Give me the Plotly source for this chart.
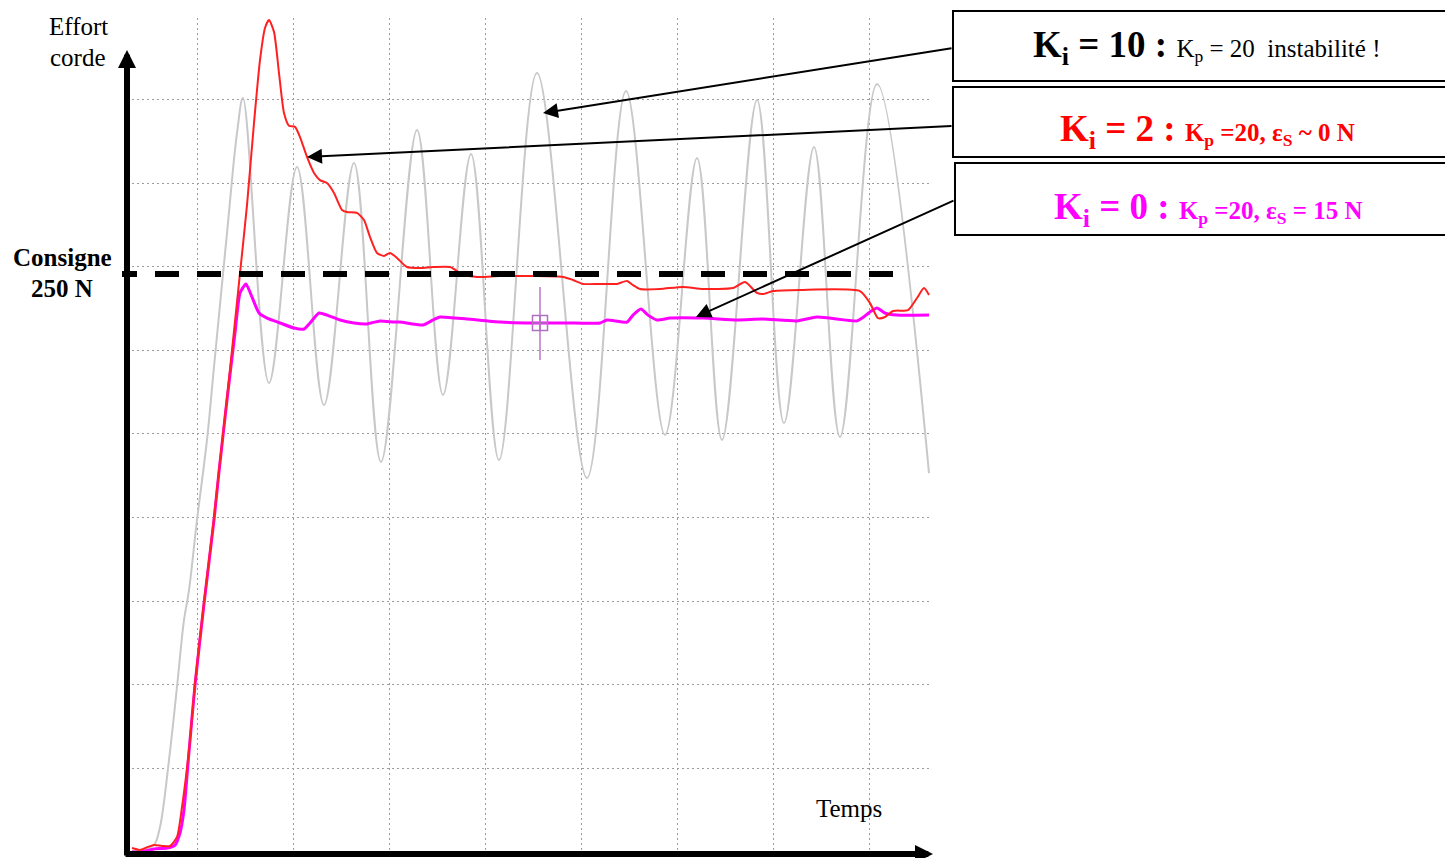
import plotly.graph_objects as go

# ---------------- data (time in ms, effort in N) ----------------
T_KI10 = [5, 18, 27, 33, 42, 50, 57, 62, 70, 80, 87, 100, 110, 116, 142, 170, 197, 227, 254, 290,
          316, 344, 372, 410, 460, 499, 538, 570, 595, 630, 657, 687, 713, 750, 802]
F_KI10 = [0.4, 1.3, 3.0, 10.8, 39.8, 71.4, 100.3, 113.3, 143.6, 178.2, 209.8, 267.7, 310.9, 326.1,
          202.8, 296.3, 193.3, 298.0, 168.7, 312.3, 197.7, 301.9, 169.5, 336.9, 161.8, 329.1,
          180.4, 300.2, 178.2, 325.2, 185.5, 304.9, 179.5, 332.2, 163.9]

T_KI2 = [5, 13, 21, 27, 35, 43, 50, 55, 62, 68, 77, 87, 92, 100, 112, 120, 127, 133, 138, 142, 147,
         152, 157, 162, 168, 173, 180, 187, 193, 200, 207, 215, 220, 230, 237, 243, 250, 257, 263,
         270, 280, 293, 306, 323, 335, 350, 373, 406, 436, 446, 456, 473, 490, 500, 506, 513, 533,
         556, 576, 606, 618, 630, 636, 646, 673, 733, 743, 751, 758, 766, 781, 790, 797, 802]
F_KI2 = [1.7, 0.9, 2.2, 3.0, 2.6, 2.6, 6.5, 19.5, 44.1, 73.1, 108.1, 144.5, 165.2, 196.4, 246.1,
         279.8, 315.3, 342.5, 356.4, 359.8, 354.7, 336.9, 319.6, 314.1, 313.6, 309.2, 300.6, 293.7,
         290.6, 289.3, 285.0, 277.7, 276.8, 276.4, 273.3, 266.0, 259.1, 257.8, 259.1, 256.9, 253.0,
         252.6, 253.0, 253.0, 250.0, 248.7, 249.1, 249.1, 248.7, 247.4, 245.7, 245.7, 245.7, 247.0,
         245.2, 243.5, 243.5, 244.4, 243.5, 243.9, 246.5, 241.8, 241.3, 242.6, 243.1, 242.6, 237.4,
         230.9, 231.4, 234.0, 234.4, 239.6, 243.9, 240.9]

T_KI0 = [5, 13, 27, 40, 48, 53, 57, 62, 68, 77, 87, 92, 100, 108, 113, 119, 125, 132, 140, 153,
         167, 177, 183, 192, 200, 213, 227, 240, 253, 267, 273, 296, 306, 313, 340, 373, 406, 440,
         473, 480, 500, 506, 514, 521, 530, 543, 576, 610, 636, 670, 690, 730, 735, 743, 750, 758,
         770, 802]
F_KI0 = [0.0, 0.0, 1.3, 1.7, 3.0, 8.2, 18.2, 43.3, 72.2, 107.3, 143.6, 164.4, 195.5, 224.5, 241.8,
         245.7, 240.0, 233.1, 230.9, 228.8, 226.6, 226.2, 228.8, 233.1, 232.2, 230.1, 228.8, 228.4,
         229.7, 229.2, 229.2, 227.9, 230.1, 231.4, 230.5, 229.2, 228.8, 228.8, 228.8, 230.1, 229.2,
         232.2, 234.8, 232.2, 230.1, 230.9, 230.9, 230.1, 230.5, 229.7, 231.4, 229.7, 230.9, 233.6,
         235.3, 233.1, 232.2, 232.2]

CONSIGNE = 250          # N
CURSOR_T = 413          # ms
CURSOR_F = 228.8        # N
CURSOR_SPAN = [212.8, 244.4]

# arrow targets (time, effort) on the curves
TIP_KI10 = (416, 319.6)
TIP_KI2 = (180, 300.6)
TIP_KI0 = (569, 231.4)

X_RANGE = [0, 803]
Y_RANGE = [0, 360.7]

# ---------------- layout helpers (page pixel -> paper) ----------------
OFF = 8                 # default body margin of the html page
W, H = 1453 - OFF, 858 - OFF
L, R, T, B = 127, 930, 18, 852     # plot area in page pixels


def px(x):
    return (x - L) / (R - L)


def py(y):
    return (B - y) / (B - T)


SERIF = "Liberation Serif, Times New Roman, serif"

fig = go.Figure()

fig.add_trace(go.Scatter(x=T_KI10, y=F_KI10, mode="lines",
                         line=dict(color="#c8c8c8", width=2, shape="spline", smoothing=1.0),
                         hoverinfo="skip", showlegend=False))
fig.add_trace(go.Scatter(x=T_KI0, y=F_KI0, mode="lines",
                         line=dict(color="#ff00ff", width=3, shape="spline", smoothing=0.5),
                         hoverinfo="skip", showlegend=False))
fig.add_trace(go.Scatter(x=T_KI2, y=F_KI2, mode="lines",
                         line=dict(color="#ff2020", width=2, shape="spline", smoothing=0.6),
                         hoverinfo="skip", showlegend=False))
# oscilloscope cursor
fig.add_trace(go.Scatter(x=[CURSOR_T, CURSOR_T], y=CURSOR_SPAN, mode="lines",
                         line=dict(color="#b878c8", width=1.5),
                         hoverinfo="skip", showlegend=False))
fig.add_trace(go.Scatter(x=[CURSOR_T], y=[CURSOR_F], mode="markers",
                         marker=dict(symbol="square-cross-open", size=15, color="#b070c0",
                                     line=dict(color="#b070c0", width=1.5)),
                         hoverinfo="skip", showlegend=False))

grid = dict(showgrid=True, gridcolor="#9c9c9c", gridwidth=1, griddash="2px,3px",
            showticklabels=False, ticks="", zeroline=False, showline=False)
fig.update_xaxes(range=X_RANGE, tick0=70, dtick=96.0, **grid)
fig.update_yaxes(range=Y_RANGE, tick0=0, dtick=36.16, **grid)

shapes = []
# consigne dashed line
dash = "15px,18px," + ",".join(["24px,18px"] * 20)
yc = (CONSIGNE - Y_RANGE[0]) / (Y_RANGE[1] - Y_RANGE[0])
shapes.append(dict(type="line", xref="paper", yref="paper", x0=px(122), x1=px(893),
                   y0=yc, y1=yc, line=dict(color="black", width=6, dash=dash), layer="above"))
# boxes
for (x0, y0, y1) in [(953, 11, 81), (953, 87, 157), (955, 163, 235)]:
    shapes.append(dict(type="rect", xref="paper", yref="paper", x0=px(x0), x1=px(1470),
                       y0=py(y1), y1=py(y0), line=dict(color="black", width=2),
                       fillcolor="white", layer="above"))

ann = []
# axes arrows
ann.append(dict(xref="paper", yref="paper", x=px(127), y=py(50), ax=0, ay=807, text="",
                showarrow=True, arrowhead=2, arrowwidth=6, arrowsize=0.6, arrowcolor="black"))
ann.append(dict(xref="paper", yref="paper", x=px(933), y=py(854), ax=-809, ay=0, text="",
                showarrow=True, arrowhead=2, arrowwidth=6, arrowsize=0.6, arrowcolor="black"))
# pointer arrows
for tip, tail in [(TIP_KI10, (953, 48)), (TIP_KI2, (953, 126)), (TIP_KI0, (955, 200))]:
    tx = L + (tip[0] - X_RANGE[0]) / (X_RANGE[1] - X_RANGE[0]) * (R - L)
    ty = B - (tip[1] - Y_RANGE[0]) / (Y_RANGE[1] - Y_RANGE[0]) * (B - T)
    ann.append(dict(xref="x", yref="y", x=tip[0], y=tip[1], ax=tail[0] - tx, ay=tail[1] - ty,
                    text="", showarrow=True, arrowhead=2, arrowwidth=2, arrowsize=1.5,
                    arrowcolor="black"))


def label(text, x, y, size, bold=False, color="black", xanchor="center"):
    ann.append(dict(xref="paper", yref="paper", x=px(x), y=py(y), xanchor=xanchor,
                    yanchor="middle", showarrow=False,
                    text=f"<b>{text}</b>" if bold else text,
                    font=dict(family=SERIF, size=size, color=color)))


label("Effort", 78, 26, 25)
label("corde", 78, 57, 25)
label("Consigne", 62, 257, 25, bold=True)
label("250 N", 62, 288, 25, bold=True)
label("Temps", 849, 808, 25)

label("<b>K<sub>i</sub> = 10 :</b> <span style='font-size:25px'>K<sub>p</sub> = 20\u00a0 instabilité !</span>",
      1206, 47, 37)
label("<b>K<sub>i</sub> = 2 : <span style='font-size:25px'>K<sub>p</sub> =20, ε<sub>S</sub> ~ 0 N</span></b>",
      1207, 131, 37, color="#ff0000")
label("<b>K<sub>i</sub> = 0 : <span style='font-size:25px'>K<sub>p</sub> =20, ε<sub>S</sub> = 15 N</span></b>",
      1208, 209, 37, color="#ff00ff")

fig.update_layout(width=W, height=H,
                  margin=dict(l=L - OFF, r=W - (R - OFF), t=T - OFF, b=H - (B - OFF)),
                  paper_bgcolor="white", plot_bgcolor="white", shapes=shapes, annotations=ann,
                  showlegend=False)

fig.write_html("out.html")
